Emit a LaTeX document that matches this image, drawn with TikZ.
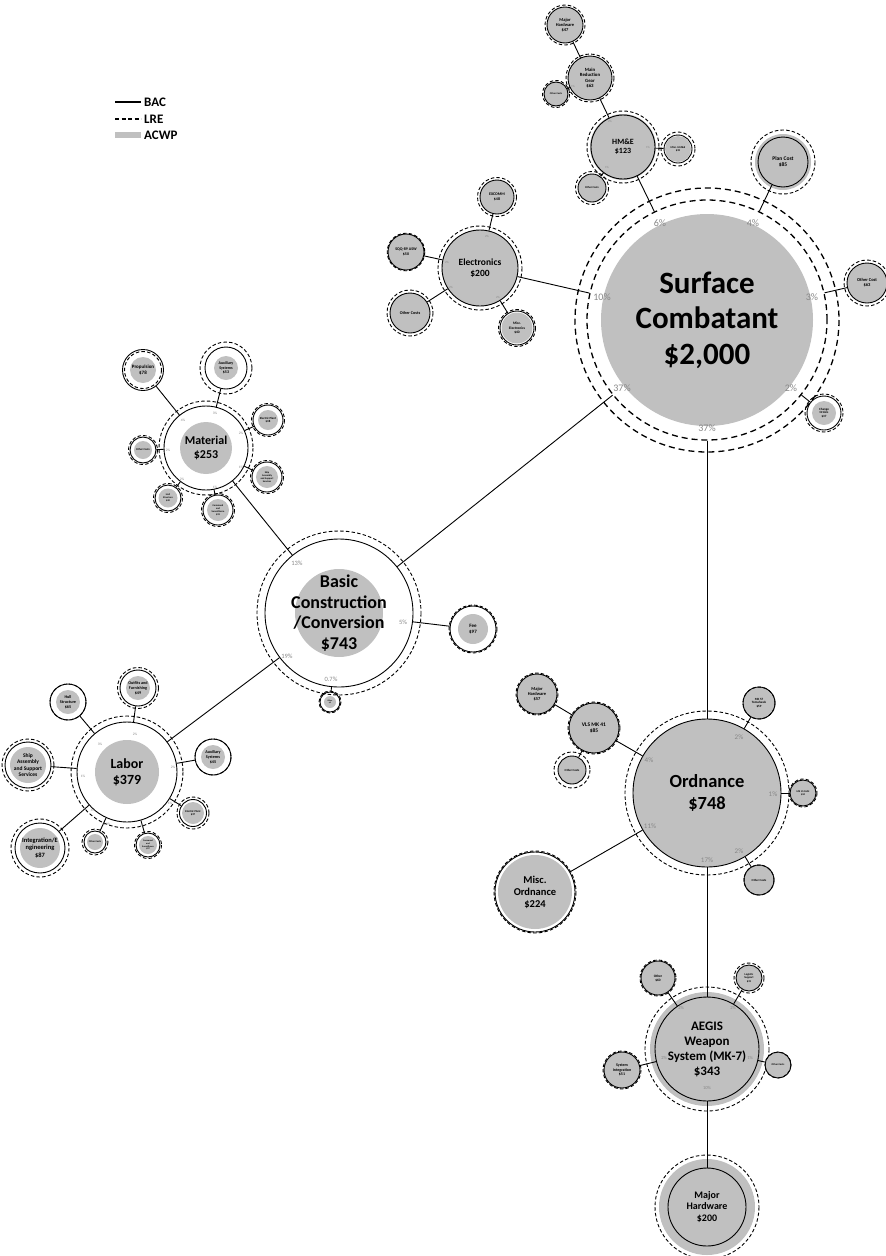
\documentclass[tikz,border=0pt]{standalone}
\usepackage{fontspec}
\setmainfont{Carlito}
\usepackage{tikz}

\definecolor{acwpgray}{RGB}{192,192,192}
\definecolor{pctgray}{RGB}{135,135,135}

% [options]{name}{x,y}{BAC r}{LRE r}{ACWP r}{font size}{text}
\newcommand{\bubble}[8][]{%
  \fill[acwp] (#3) circle (#6);
  \draw[lre,#1] (#3) circle (#5);
  \node[bac,#1,minimum size=2*#4pt,font=\fontsize{#7}{\dimexpr #7pt*23/20\relax}\selectfont\bfseries] (#2) at (#3) {#8};}

\begin{document}
\begin{tikzpicture}
        [x=1pt,y=-1pt,
         bac/.style={circle,draw,line width=0.9pt,inner sep=0pt,align=center},
         lre/.style={line width=0.9pt,dash pattern=on 3.5pt off 2.2pt},
         acwp/.style={fill=acwpgray},
         link/.style={line width=0.9pt},
         pct/.style={text=pctgray,inner sep=0pt},
         legend/.style={inner sep=0pt,anchor=west,font=\fontsize{13}{13}\selectfont\bfseries}]
        \useasboundingbox (0,0) rectangle (886,1256);

        % legend
        \node[legend] (lgbac) at (144,102) {BAC};
        \node[legend] (lglre) at (144,119) {LRE};
        \node[legend] (lgacwp) at (144,135) {ACWP};
        \draw[line width=1.2pt] ([xshift=-29pt]lgbac.west) -- ([xshift=-3pt]lgbac.west);
        \draw[line width=1.2pt,dash pattern=on 4pt off 2.5pt] ([xshift=-29pt]lglre.west) -- ([xshift=-3pt]lglre.west);
        \draw[acwpgray,line width=6pt] ([xshift=-29pt]lgacwp.west) -- ([xshift=-3pt]lgacwp.west);

        % surface combatant
        \bubble[line width=1.3pt,dash pattern=on 6pt off 4pt]{sc}{707,320}{120}{132}{106}{31}{Surface\\Combatant\\\$2,000}
        \bubble{plan}{783,162}{25}{32}{28}{5.5}{Plan Cost\\\$85}
        \bubble{sco}{867,283}{20}{23}{20}{4.5}{Other Cost\\\$63}
        \bubble{chg}{824,413}{17}{19}{12}{3.2}{Change\\Orders\\\$37}

        % HM&E
        \bubble{hme}{623,147}{32}{36}{33}{8}{HM\&E\\\$123}
        \bubble{mrg}{590,78}{22}{24}{22}{4.8}{Main\\Reduction\\Gear\\\$63}
        \bubble{mhw}{565,25}{18}{20}{18}{4.5}{Major\\Hardware\\\$47}
        \bubble{mrgo}{556,94}{12}{13.5}{12}{2.5}{Other Costs}
        \bubble{hmem}{678,149}{14}{17}{13}{2.8}{Misc. HM\&E\\\$32}
        \bubble{hmeo}{592,188}{14}{16.5}{14}{2.8}{Other Costs}

        % electronics
        \bubble{elec}{480,268}{38}{42}{38}{9.5}{Electronics\\\$200}
        \bubble{exc}{497,197}{17}{19.5}{17}{4}{EXCOMM\\\$48}
        \bubble{sqq}{406,252}{18}{18.8}{18}{4}{SQQ-89 ASW\\\$50}
        \bubble{eleo}{410,313}{20}{23}{20}{4.2}{Other Costs}
        \bubble{elem}{517,328}{17}{18.5}{15.5}{3.6}{Misc.\\Electronics\\\$40}

        % basic construction
        \bubble{bc}{339,613}{74}{82}{44}{18}{Basic\\Construction\\/Conversion\\\$743}
        \bubble{fee}{473,629}{23}{24}{15}{5}{Fee\\\$97}
        \bubble{bco}{330,702}{10}{11}{6}{2}{Other\\\$5}

        % material
        \bubble{mat}{206,448}{42}{47}{26}{12}{Material\\\$253}
        \bubble{mprop}{143,370}{20.5}{18.5}{13}{5}{Propulsion\\\$78}
        \bubble{maux}{226,368}{21}{26}{12}{4}{Auxiliary\\Systems\\\$53}
        \bubble{mele}{268,420}{15}{16.5}{10}{3}{Electric Plant\\\$38}
        \bubble{moth}{143,450}{13}{14.5}{9}{2.8}{Other Costs}
        \bubble{mship}{267,477}{15}{16.5}{11}{2.5}{Ship\\Assembly\\and Support\\Services}
        \bubble{mhull}{168,498}{13}{14.5}{9.5}{2.5}{Hull\\Structure\\\$40}
        \bubble{mcom}{218,510}{15}{16.5}{11}{2.5}{Command\\and\\Surveillance\\\$33}

        % labor
        \bubble{lab}{127,772}{50}{56}{32}{14}{Labor\\\$379}
        \bubble{lhull}{68,702}{18}{18}{12}{4.2}{Hull\\Structure\\\$65}
        \bubble{lout}{138,688}{18}{20.5}{12}{4.2}{Outfits and\\Furnishing\\\$49}
        \bubble{lship}{28,765}{23}{26}{18}{5.5}{Ship\\Assembly\\and Support\\Services}
        \bubble{laux}{213,757}{18}{18}{12}{4.2}{Auxiliary\\Systems\\\$45}
        \bubble{lele}{193,813}{13.5}{16}{11}{2.8}{Electric Plant\\\$37}
        \bubble{lcom}{148,845}{12}{13.5}{9}{2.3}{Command\\and\\Surveillance\\\$37}
        \bubble{loth}{95,842}{11}{13}{8}{2.5}{Other Costs}
        \bubble{lint}{40,848}{25}{29}{20}{6.5}{Integration/E\\ngineering\\\$87}

        % ordnance
        \bubble{ord}{707,793}{74}{82}{74}{18.5}{Ordnance\\\$748}
        \bubble{vls}{594,728}{25}{26}{25}{5.5}{VLS MK 41\\\$85}
        \bubble{vmhw}{537,694}{20}{21}{20}{4.5}{Major\\Hardware\\\$57}
        \bubble{vlso}{572,770}{14}{18}{14}{3}{Other Costs}
        \bubble{mk57}{759,703}{16}{16}{16}{3.2}{MK 57\\Tomahawk\\\$59}
        \bubble{mk45}{803,793}{13}{14}{13}{2.6}{MK 45 GUN\\\$34}
        \bubble{ordo}{759,880}{15}{15}{15}{3}{Other Costs}
        \bubble{misc}{535,892}{40}{41}{37}{10.5}{Misc.\\Ordnance\\\$224}

        % AEGIS
        \bubble{aeg}{707,1049}{52}{62}{57}{13}{AEGIS\\Weapon\\System (MK-7)\\\$343}
        \bubble{aoth}{658,978}{17}{18}{17}{3.5}{Other\\\$60}
        \bubble{alog}{749,978}{13}{15}{13}{2.8}{Logistic\\Support\\\$31}
        \bubble{asys}{622,1070}{18}{19}{18}{4}{System\\Integration\\\$51}
        \bubble{aoc}{778,1065}{13}{13}{13}{2.6}{Other Costs}
        \bubble{amhw}{707,1207}{39}{52}{48}{10}{Major\\Hardware\\\$200}

        % connectors
        \foreach \k in {hme,plan,sco,chg,elec,bc,ord} \draw[link] (sc) -- (\k);
        \foreach \k in {mrg,hmem,hmeo} \draw[link] (hme) -- (\k);
        \foreach \k in {mhw,mrgo} \draw[link] (mrg) -- (\k);
        \foreach \k in {exc,sqq,eleo,elem} \draw[link] (elec) -- (\k);
        \foreach \k in {mat,fee,bco,lab} \draw[link] (bc) -- (\k);
        \foreach \k in {mprop,maux,mele,moth,mship,mhull,mcom} \draw[link] (mat) -- (\k);
        \foreach \k in {lhull,lout,lship,laux,lele,lcom,loth,lint} \draw[link] (lab) -- (\k);
        \foreach \k in {vls,mk57,mk45,ordo,misc,aeg} \draw[link] (ord) -- (\k);
        \foreach \k in {vmhw,vlso} \draw[link] (vls) -- (\k);
        \foreach \k in {aoth,alog,asys,aoc,amhw} \draw[link] (aeg) -- (\k);

        % percentages
        \foreach \n/\x/\y/\t in {sc1/660/223/6,sc2/753/223/4,sc3/602/297/10,sc4/812/297/3,
            sc5/622/388/37,sc6/791/388/2,sc7/707/428/37}
          \node[pct,font=\fontsize{10}{10}\selectfont] (\n) at (\x,\y) {\t\%};
        \foreach \n/\x/\y/\t in {bc1/297/563/13,bc2/403/622/5,bc3/287/656/19,bc4/331/679/0.7}
          \node[pct,font=\fontsize{6.5}{6.5}\selectfont] (\n) at (\x,\y) {\t\%};
        \foreach \n/\x/\y/\t in {or1/649/760/4,or2/650/826/11,or3/739/737/2,or4/773/794/1,
            or5/739/851/2,or6/707/860/17}
          \node[pct,font=\fontsize{7}{7}\selectfont] (\n) at (\x,\y) {\t\%};
        \foreach \n/\x/\y/\t in {ae1/681/1008/2,ae2/733/1008/2,ae3/664/1058/2,ae4/750/1058/1,ae5/707/1088/10}
          \node[pct,font=\fontsize{4.5}{4.5}\selectfont] (\n) at (\x,\y) {\t\%};
        \foreach \n/\x/\y/\t in {ma1/183/420/4,ma2/215/413/3,ma3/241/433/2,ma4/168/450/2,ma5/241/467/1,
            ma6/182/479/2,ma7/215/487/1,la1/100/744/3,la2/135/734/2,la3/173/767/2,la4/83/776/1,
            la5/170/803/1,la6/142/826/1,la7/107/824/0.9,la8/93/810/4}
          \node[pct,font=\fontsize{3.5}{3.5}\selectfont] (\n) at (\x,\y) {\t\%};
        \foreach \n/\x/\y/\t in {el1/487/236/2,el2/447/262/2,el3/451/287/2,el4/498/297/2,
            hm1/610/121/2,hm2/648/147/1,hm3/607/167/1,mr1/573/86/1}
          \node[pct,font=\fontsize{3}{3}\selectfont] (\n) at (\x,\y) {\t\%};

    \end{tikzpicture}
\end{document}
